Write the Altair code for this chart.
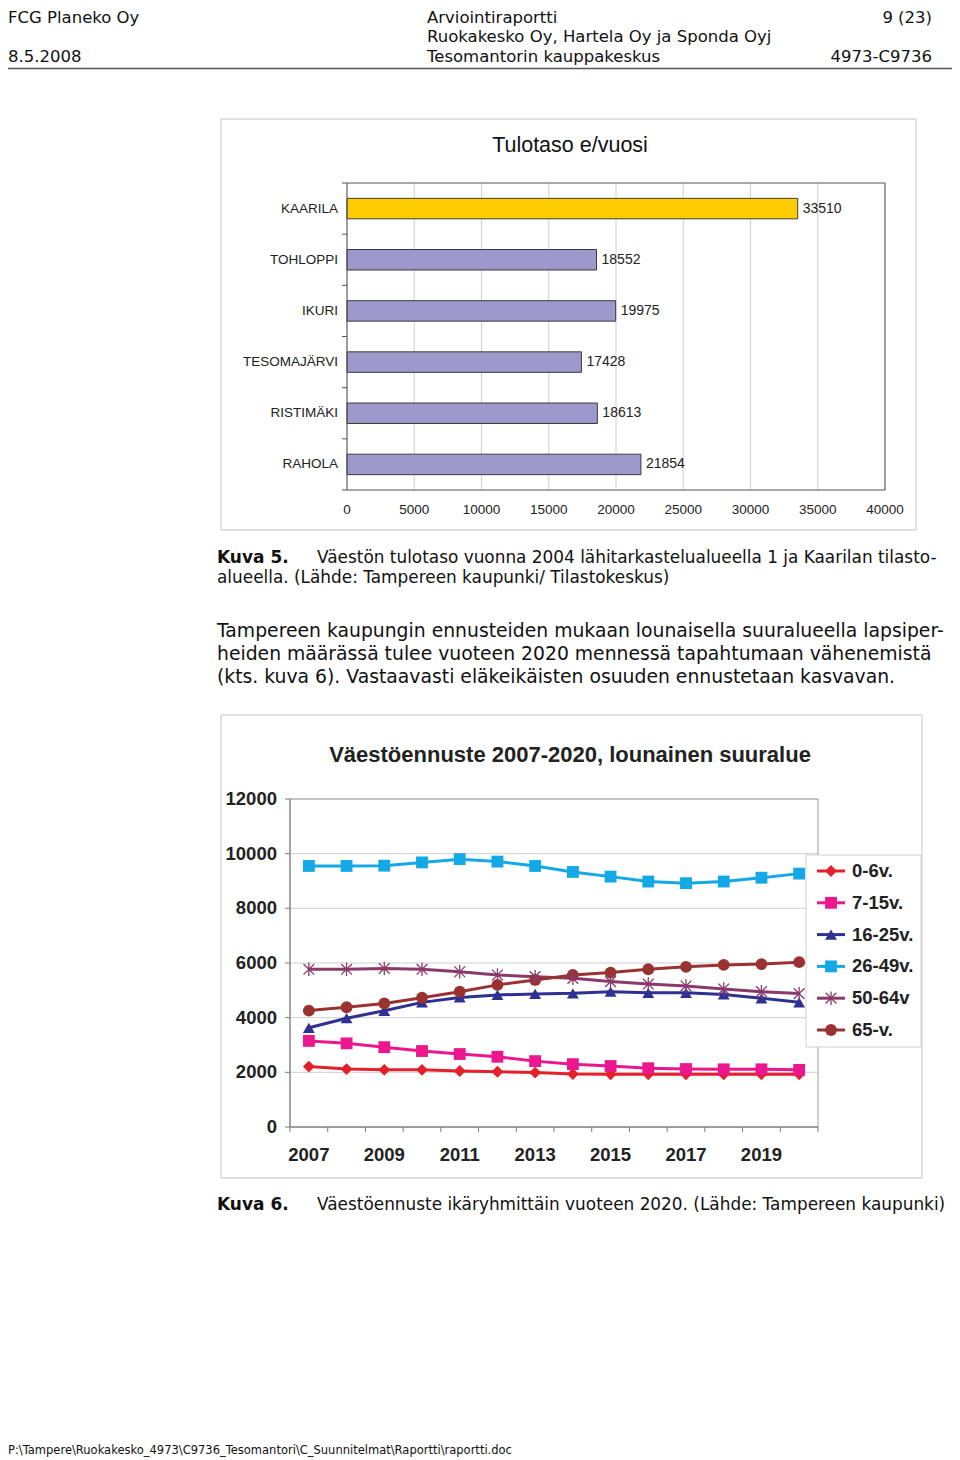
import altair as alt
import pandas as pd

# ---------------- data ----------------
areas = ["KAARILA", "TOHLOPPI", "IKURI", "TESOMAJÄRVI", "RISTIMÄKI", "RAHOLA"]
income = [33510, 18552, 19975, 17428, 18613, 21854]
income_ticks = [0, 5000, 10000, 15000, 20000, 25000, 30000, 35000, 40000]

years = list(range(2007, 2021))
series = ["0-6v.", "7-15v.", "16-25v.", "26-49v.", "50-64v", "65-v."]
v0_6 = [2210, 2120, 2090, 2090, 2050, 2020, 1990, 1940, 1930, 1930, 1930, 1930, 1930, 1930]
v7_15 = [3150, 3060, 2920, 2780, 2670, 2570, 2410, 2300, 2230, 2150, 2120, 2110, 2110, 2090]
v16_25 = [3630, 3980, 4250, 4560, 4740, 4830, 4870, 4890, 4950, 4910, 4910, 4850, 4710, 4560]
v26_49 = [9550, 9550, 9560, 9680, 9800, 9710, 9550, 9330, 9160, 8980, 8920, 8980, 9120, 9270]
v50_64 = [5770, 5770, 5800, 5770, 5680, 5560, 5500, 5440, 5320, 5230, 5160, 5050, 4950, 4880]
v65 = [4260, 4380, 4520, 4730, 4950, 5200, 5380, 5560, 5650, 5770, 5860, 5930, 5960, 6030]
pop_ticks = [0, 2000, 4000, 6000, 8000, 10000, 12000]
year_labels = [2007, 2009, 2011, 2013, 2015, 2017, 2019]

# ---------------- helpers / styles ----------------
O = 8  # page margin


def P(v):
    return v - O


DOC = "DejaVu Sans"
CHT = "Liberation Sans"
bar_colors = ["#FFCC00"] + ["#9D99CC"] * 5
line_colors = ["#E5202A", "#EC178C", "#2E3192", "#14A8E6", "#8A3A6A", "#9B3232"]
ASTER = "M0,-1L0,1M-0.8,-0.8L0.8,0.8M-0.8,0.8L0.8,-0.8"

one = pd.DataFrame({"t": [""]})


def txt(s, x, y, size, bold=False, align="left", font=DOC, color="#111111"):
    return alt.Chart(pd.DataFrame({"t": [s]})).mark_text(
        align=align, baseline="middle", fontSize=size,
        fontWeight="bold" if bold else "normal", font=font, color=color
    ).encode(x=alt.value(P(x)), y=alt.value(P(y)), text="t:N")


def box(x1, y1, x2, y2, stroke, fill=None, sw=1):
    kw = dict(stroke=stroke, strokeWidth=sw)
    if fill is None:
        kw["fillOpacity"] = 0
    else:
        kw["fill"] = fill
    return alt.Chart(one).mark_rect(**kw).encode(
        x=alt.value(P(x1)), x2=alt.value(P(x2)), y=alt.value(P(y1)), y2=alt.value(P(y2)))


layers = []

# ---------------- header ----------------
HS = 16.5
layers += [
    txt("FCG Planeko Oy", 8, 17.5, HS),
    txt("8.5.2008", 8, 56.5, HS),
    txt("Arviointiraportti", 427, 17.5, HS),
    txt("Ruokakesko Oy, Hartela Oy ja Sponda Oyj", 427, 37, HS),
    txt("Tesomantorin kauppakeskus", 427, 56.5, HS),
    txt("9 (23)", 932, 17.5, HS, align="right"),
    txt("4973-C9736", 932, 56.5, HS, align="right"),
    alt.Chart(one).mark_rule(color="#555555", strokeWidth=1.5).encode(
        x=alt.value(0), x2=alt.value(944), y=alt.value(P(68.5))),
]

# ---------------- bar chart ----------------
bx = alt.Scale(domain=[0, 40000], range=[P(347), P(885)], nice=False)
by = alt.Scale(domain=areas, range=[P(183), P(490)], paddingInner=0.6, paddingOuter=0.3)
bb = alt.Scale(domain=[0, 6], range=[P(183), P(490)], nice=False)

df_bar = pd.DataFrame({"area": areas, "income": income})
df_bt = pd.DataFrame({"v": income_ticks})
df_bb = pd.DataFrame({"k": list(range(7))})

layers += [
    box(221, 119, 916, 530, "#C4C4C4", fill="white"),
    alt.Chart(df_bt).mark_rule(color="#CFCFCF", strokeWidth=1).encode(
        x=alt.X("v:Q", scale=bx, axis=None), y=alt.value(P(183)), y2=alt.value(P(490))),
    alt.Chart(df_bar).mark_bar(stroke="#3A3A3A", strokeWidth=1, opacity=1).encode(
        x=alt.X("income:Q", scale=bx, axis=None),
        y=alt.Y("area:N", scale=by, axis=None),
        color=alt.Color("area:N", scale=alt.Scale(domain=areas, range=bar_colors), legend=None)),
    box(347, 183, 885, 490, "#555555"),
    alt.Chart(df_bb).mark_rule(color="#555555").encode(
        x=alt.value(P(342)), x2=alt.value(P(347)), y=alt.Y("k:Q", scale=bb, axis=None)),
    alt.Chart(df_bar).mark_text(align="left", baseline="middle", dx=5, fontSize=14,
                                font=CHT, color="#222222").encode(
        x=alt.X("income:Q", scale=bx, axis=None), y=alt.Y("area:N", scale=by, axis=None),
        text="income:Q"),
    alt.Chart(df_bar).mark_text(align="right", baseline="middle", fontSize=13.5,
                                font=CHT, color="#222222").encode(
        x=alt.value(P(338)), y=alt.Y("area:N", scale=by, axis=None), text="area:N"),
    alt.Chart(df_bt).mark_text(align="center", baseline="middle", fontSize=13.5,
                               font=CHT, color="#222222").encode(
        x=alt.X("v:Q", scale=bx, axis=None), y=alt.value(P(510)), text=alt.Text("v:Q", format="d")),
    txt("Tulotaso e/vuosi", 570, 146, 21.5, font=CHT, align="center"),
]

# ---------------- captions / paragraph ----------------
layers += [
    txt("Kuva 5.", 217, 558, 17, bold=True),
    txt("Väestön tulotaso vuonna 2004 lähitarkastelualueella 1 ja Kaarilan tilasto-", 317, 558, 16.9),
    txt("alueella. (Lähde: Tampereen kaupunki/ Tilastokeskus)", 217, 578, 16.9),
    txt("Tampereen kaupungin ennusteiden mukaan lounaisella suuralueella lapsiper-", 217, 631, 18.8),
    txt("heiden määrässä tulee vuoteen 2020 mennessä tapahtumaan vähenemistä", 217, 654, 18.8),
    txt("(kts. kuva 6). Vastaavasti eläkeikäisten osuuden ennustetaan kasvavan.", 217, 677, 18.8),
    txt("Kuva 6.", 217, 1205, 17, bold=True),
    txt("Väestöennuste ikäryhmittäin vuoteen 2020. (Lähde: Tampereen kaupunki)", 317, 1205, 16.9),
    txt(r"P:\Tampere\Ruokakesko_4973\C9736_Tesomantori\C_Suunnitelmat\Raportti\raportti.doc",
        8, 1451, 11.5),
]

# ---------------- line chart ----------------
lx = alt.Scale(domain=[2006.5, 2020.5], range=[P(290), P(818)], nice=False, zero=False)
ly = alt.Scale(domain=[0, 12000], range=[P(1127), P(799)], nice=False)
cs = alt.Scale(domain=series, range=line_colors)
legy = alt.Scale(type="point", domain=series, range=[P(871), P(1030)], padding=0)

vals = [v0_6, v7_15, v16_25, v26_49, v50_64, v65]
df_line = pd.DataFrame(
    [{"year": y, "series": s, "value": v} for s, vs in zip(series, vals) for y, v in zip(years, vs)])
filled_series = ["0-6v.", "7-15v.", "16-25v.", "26-49v.", "65-v."]
df_fill = df_line[df_line["series"].isin(filled_series)]
df_star = df_line[df_line["series"] == "50-64v"]
df_pt = pd.DataFrame({"v": pop_ticks})
df_yl = pd.DataFrame({"y": year_labels})
df_xb = pd.DataFrame({"b": [y - 0.5 for y in years] + [years[-1] + 0.5]})
df_leg = pd.DataFrame({"series": series})
df_leg_fill = df_leg[df_leg["series"].isin(filled_series)]
df_leg_star = df_leg[df_leg["series"] == "50-64v"]
shape_scale = alt.Scale(domain=filled_series,
                        range=["diamond", "square", "triangle-up", "square", "circle"])

layers += [
    box(221, 715, 922, 1178, "#C4C4C4", fill="white"),
    alt.Chart(df_pt).mark_rule(color="#CFCFCF", strokeWidth=1).encode(
        x=alt.value(P(290)), x2=alt.value(P(818)), y=alt.Y("v:Q", scale=ly, axis=None)),
    box(290, 799, 818, 1127, "#A0A0A0"),
    alt.Chart(one).mark_rule(color="#7A7A7A", strokeWidth=1).encode(
        x=alt.value(P(290)), y=alt.value(P(799)), y2=alt.value(P(1127))),
    alt.Chart(one).mark_rule(color="#7A7A7A", strokeWidth=1).encode(
        x=alt.value(P(290)), x2=alt.value(P(818)), y=alt.value(P(1127))),
    alt.Chart(df_pt).mark_rule(color="#7A7A7A").encode(
        x=alt.value(P(285)), x2=alt.value(P(290)), y=alt.Y("v:Q", scale=ly, axis=None)),
    alt.Chart(df_xb).mark_rule(color="#7A7A7A").encode(
        x=alt.X("b:Q", scale=lx, axis=None), y=alt.value(P(1127)), y2=alt.value(P(1132))),
    alt.Chart(df_line).mark_line(strokeWidth=3).encode(
        x=alt.X("year:Q", scale=lx, axis=None), y=alt.Y("value:Q", scale=ly, axis=None),
        color=alt.Color("series:N", scale=cs, legend=None)),
    alt.Chart(df_fill).mark_point(filled=True, size=140, opacity=1).encode(
        x=alt.X("year:Q", scale=lx, axis=None), y=alt.Y("value:Q", scale=ly, axis=None),
        color=alt.Color("series:N", scale=cs, legend=None),
        shape=alt.Shape("series:N", scale=shape_scale, legend=None)),
    alt.Chart(df_star).mark_point(filled=False, shape=ASTER, size=180, strokeWidth=1.3,
                                  opacity=1).encode(
        x=alt.X("year:Q", scale=lx, axis=None), y=alt.Y("value:Q", scale=ly, axis=None),
        color=alt.Color("series:N", scale=cs, legend=None)),
    alt.Chart(df_pt).mark_text(align="right", baseline="middle", fontSize=18.5, fontWeight="bold",
                               font=CHT, color="#222222").encode(
        x=alt.value(P(277)), y=alt.Y("v:Q", scale=ly, axis=None), text=alt.Text("v:Q", format="d")),
    alt.Chart(df_yl).mark_text(align="center", baseline="middle", fontSize=18.5, fontWeight="bold",
                               font=CHT, color="#222222").encode(
        x=alt.X("y:Q", scale=lx, axis=None), y=alt.value(P(1155)), text=alt.Text("y:Q", format="d")),
    txt("Väestöennuste 2007-2020, lounainen suuralue", 570, 755, 22, bold=True, font=CHT,
        align="center", color="#222222"),
    # legend
    box(806, 855, 921, 1047, "#D0D0D0", fill="white"),
    alt.Chart(df_leg).mark_rule(strokeWidth=3).encode(
        x=alt.value(P(817)), x2=alt.value(P(845)), y=alt.Y("series:N", scale=legy, axis=None),
        color=alt.Color("series:N", scale=cs, legend=None)),
    alt.Chart(df_leg_fill).mark_point(filled=True, size=140, opacity=1).encode(
        x=alt.value(P(831)), y=alt.Y("series:N", scale=legy, axis=None),
        color=alt.Color("series:N", scale=cs, legend=None),
        shape=alt.Shape("series:N", scale=shape_scale, legend=None)),
    alt.Chart(df_leg_star).mark_point(filled=False, shape=ASTER, size=180, strokeWidth=1.3,
                                      opacity=1).encode(
        x=alt.value(P(831)), y=alt.Y("series:N", scale=legy, axis=None),
        color=alt.Color("series:N", scale=cs, legend=None)),
    alt.Chart(df_leg).mark_text(align="left", baseline="middle", fontSize=18.5, fontWeight="bold",
                                font=CHT, color="#222222").encode(
        x=alt.value(P(852)), y=alt.Y("series:N", scale=legy, axis=None), text="series:N"),
]

chart = alt.layer(*layers).resolve_scale(
    x="independent", y="independent", color="independent", shape="independent"
).properties(
    width=944, height=1452, padding=0, autosize=alt.AutoSizeParams(type="none"),
    background="white"
).configure_view(strokeWidth=0)

chart.save("out.html", embed_options={"renderer": "svg", "actions": False})
